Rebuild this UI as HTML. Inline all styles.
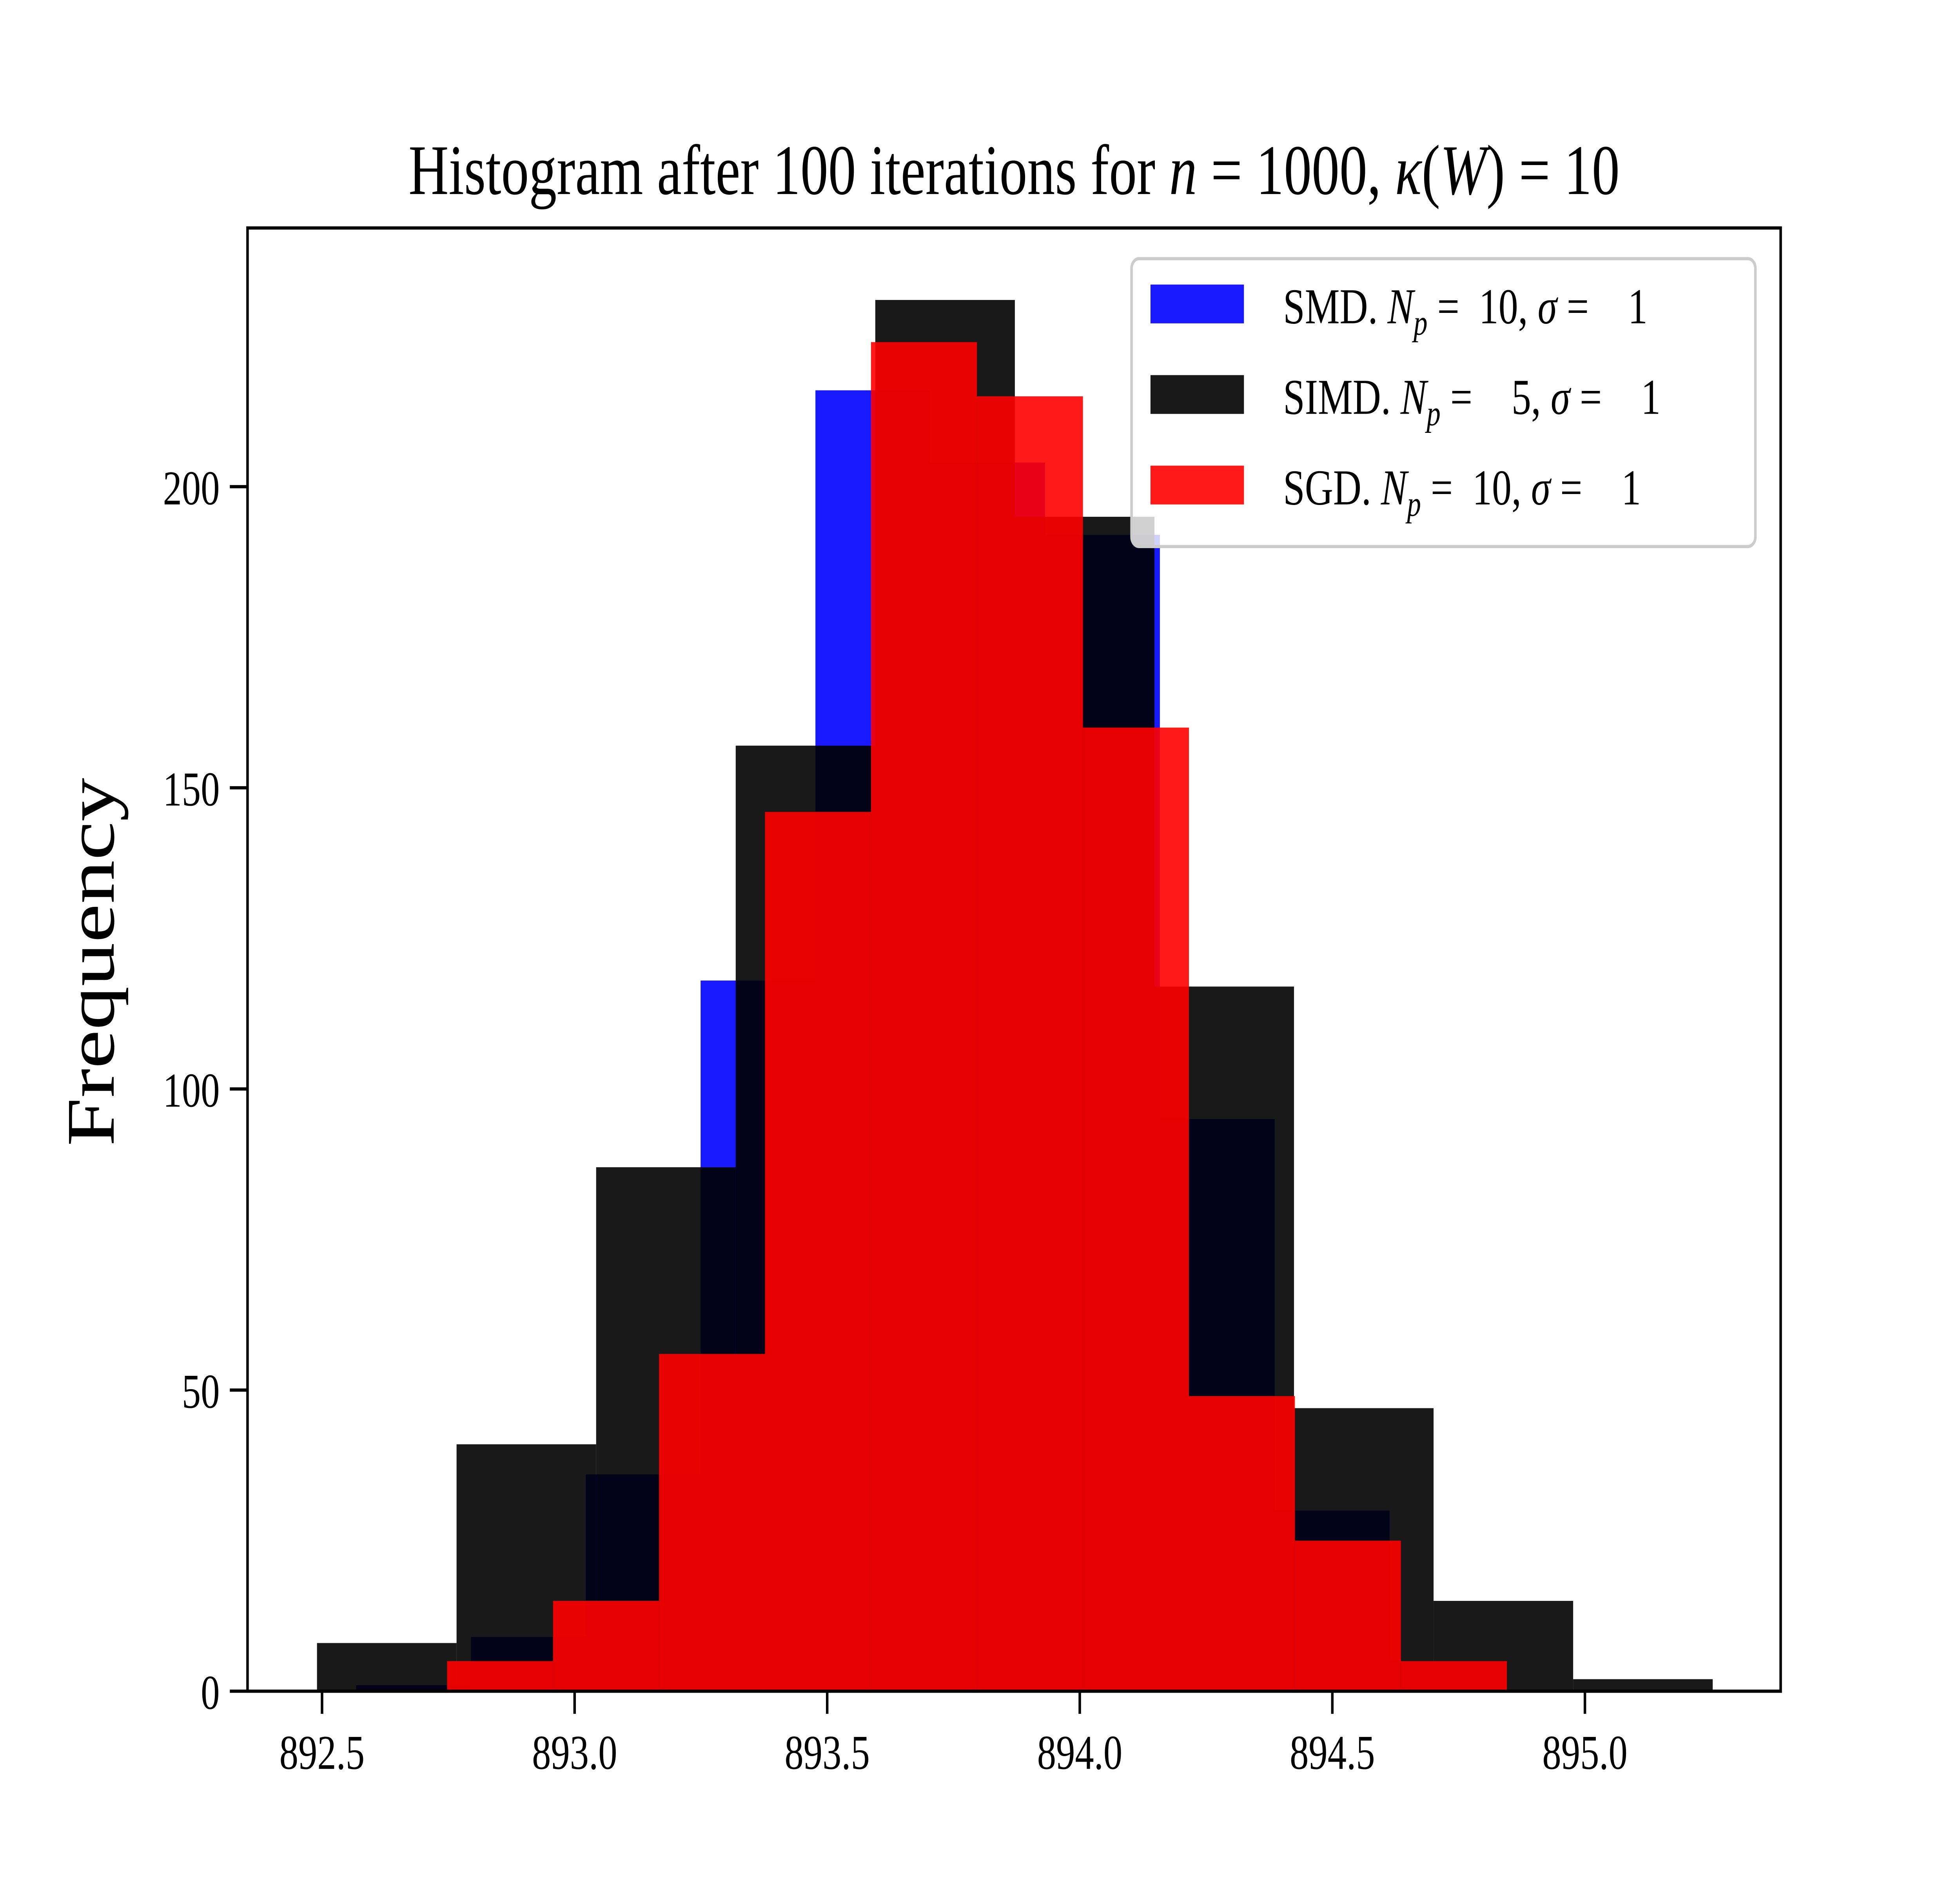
<!DOCTYPE html>
<html><head><meta charset="utf-8"><style>
html,body{margin:0;padding:0;background:#fff;width:100%;height:100%;overflow:hidden;}
svg{display:block;width:100vw;height:100vh;font-family:"Liberation Serif","DejaVu Serif",serif;}
</style></head><body>
<svg id="chart" viewBox="0 0 1552 1164" preserveAspectRatio="none" xmlns="http://www.w3.org/2000/svg">
<rect x="0" y="0" width="1552" height="1164" fill="#fff"/>
<text x="803" y="120" font-size="44" text-anchor="middle">Histogram after 100 iterations for <tspan font-style="italic">n</tspan> = 1000, <tspan font-style="italic">κ</tspan>(<tspan font-style="italic">W</tspan>) = 10</text>
<g id="bars"></g>
<rect x="196" y="141" width="1214" height="905" fill="none" stroke="#000" stroke-width="2"/>
<g id="xticks"></g>
<g id="yticks"></g>
<text transform="translate(90,595) rotate(-90)" font-size="54" text-anchor="middle">Frequency</text>
<g>
<rect x="896" y="160" width="494" height="178" rx="6" fill="#fff" fill-opacity="0.8" stroke="#ccc" stroke-width="2"/>
<g>
<rect x="911" y="176" width="74" height="24" fill="#0000ff" fill-opacity="0.9"/>
<text x="1016" y="200" font-size="31" xml:space="preserve">SMD. <tspan font-style="italic">N<tspan font-size="22" dy="7">p</tspan></tspan><tspan dy="-7"> =  10, </tspan><tspan font-style="italic">σ</tspan> =    1</text>
</g>
<g>
<rect x="911" y="232" width="74" height="24" fill="#000" fill-opacity="0.9"/>
<text x="1016" y="256" font-size="31" xml:space="preserve">SIMD. <tspan font-style="italic">N<tspan font-size="22" dy="7">p</tspan></tspan><tspan dy="-7"> =    5, </tspan><tspan font-style="italic">σ</tspan> =    1</text>
</g>
<g>
<rect x="911" y="288" width="74" height="24" fill="#ff0000" fill-opacity="0.9"/>
<text x="1016" y="312" font-size="31" xml:space="preserve">SGD. <tspan font-style="italic">N<tspan font-size="22" dy="7">p</tspan></tspan><tspan dy="-7"> =  10, </tspan><tspan font-style="italic">σ</tspan> =    1</text>
</g>
</g>
</svg>
<script>
const smdStart = 892.5675, smdWidth = 0.2273;
const smdCounts = [1, 9, 36, 118, 216, 204, 192, 95, 30, 5];
const simdStart = 892.49, simdWidth = 0.2763;
const simdCounts = [8, 41, 87, 157, 231, 195, 117, 47, 15, 2];
const sgdStart = 892.7475, sgdWidth = 0.2098;
const sgdCounts = [5, 15, 56, 146, 224, 215, 160, 49, 25, 5];
const xTickValues = [892.5, 893.0, 893.5, 894.0, 894.5, 895.0];
const xTickLabels = ["892.5", "893.0", "893.5", "894.0", "894.5", "895.0"];
const yTickValues = [0, 50, 100, 150, 200];

const NS = "http://www.w3.org/2000/svg";
function xs(v){ return 255 + (v - 892.5) * 400; }
function ys(v){ return 1046 - v * 3.725; }
const bars = document.getElementById('bars');
function drawSeries(start, width, counts, color, name){
  counts.forEach((c, i) => {
    const r = document.createElementNS(NS, 'rect');
    const x0 = xs(start + i * width), x1 = xs(start + (i + 1) * width);
    r.setAttribute('x', x0); r.setAttribute('width', x1 - x0);
    r.setAttribute('y', ys(c)); r.setAttribute('height', ys(0) - ys(c));
    r.setAttribute('fill', color); r.setAttribute('fill-opacity', '0.9');
    
    
    bars.appendChild(r);
  });
}
drawSeries(smdStart, smdWidth, smdCounts, '#0000ff', 'smd');
drawSeries(simdStart, simdWidth, simdCounts, '#000000', 'simd');
drawSeries(sgdStart, sgdWidth, sgdCounts, '#ff0000', 'sgd');
const xg = document.getElementById('xticks');
xTickValues.forEach((v, i) => {
  const l = document.createElementNS(NS, 'line');
  l.setAttribute('x1', xs(v)); l.setAttribute('x2', xs(v));
  l.setAttribute('y1', 1046); l.setAttribute('y2', 1060);
  l.setAttribute('stroke', '#000'); l.setAttribute('stroke-width', '2');
  
  
  xg.appendChild(l);
  const t = document.createElementNS(NS, 'text');
  t.setAttribute('x', xs(v)); t.setAttribute('y', 1094);
  t.setAttribute('font-size', '30'); t.setAttribute('text-anchor', 'middle');
  t.textContent = xTickLabels[i];
  
  
  xg.appendChild(t);
});
const yg = document.getElementById('yticks');
yTickValues.forEach(v => {
  const l = document.createElementNS(NS, 'line');
  l.setAttribute('x1', 182); l.setAttribute('x2', 196);
  l.setAttribute('y1', ys(v)); l.setAttribute('y2', ys(v));
  l.setAttribute('stroke', '#000'); l.setAttribute('stroke-width', '2');
  
  
  yg.appendChild(l);
  const t = document.createElementNS(NS, 'text');
  t.setAttribute('x', 174); t.setAttribute('y', ys(v) + 11);
  t.setAttribute('font-size', '30'); t.setAttribute('text-anchor', 'end');
  t.textContent = String(v);
  
  
  yg.appendChild(t);
});
</script>
</body></html>
